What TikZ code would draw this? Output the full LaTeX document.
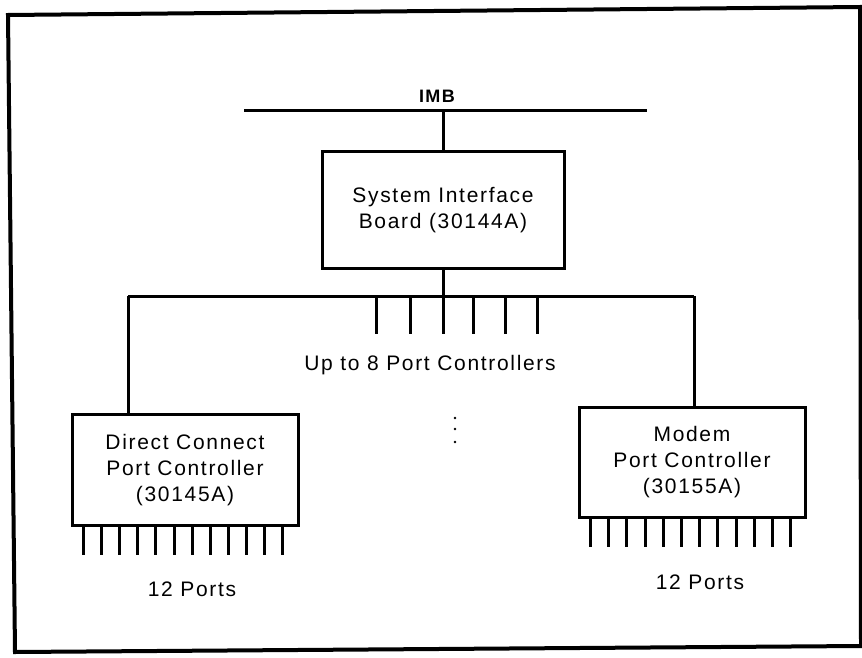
\documentclass[tikz,border=0pt]{standalone}
\usepackage{fontspec}
\setmainfont{Liberation Sans}[LetterSpace=8]
\usetikzlibrary{calc}
\begin{document}
\begin{tikzpicture}[x=1pt,y=-1pt,line width=3pt,
  box/.style={draw,line width=3pt,inner sep=0pt,align=center,font=\fontsize{21}{26}\selectfont},
  lbl/.style={inner sep=0pt,font=\fontsize{21}{26}\selectfont},
  stub/.style={line width=3pt}]
\useasboundingbox (0,0) rectangle (862,658);
% outer frame
\draw[line width=4pt] (8,15) -- (860,7) -- (861,646) -- (15,652) -- cycle;
% IMB bus
\coordinate (imbL) at (244,111);
\coordinate (imbR) at (647,111);
\draw (imbL) -- (imbR);
\node[lbl,font=\fontsize{18}{20}\selectfont\bfseries] (imb) at (437,96) {IMB};
% system interface board
\node[box,minimum width=242pt,minimum height=116pt] (sib) at (443,210) {System Interface\\Board (30144A)};
\draw (sib.north) -- (sib.north |- imbL);
% distribution line
\coordinate (hL) at (128,296);
\coordinate (hR) at (694,296);
\draw (hL) -- (hR);
\coordinate (cEnd) at (443,334);
\draw (sib.south) -- (cEnd);
\foreach \x [count=\i] in {376,410,473,505,537}{
  \coordinate (s\i) at (\x,296);
  \draw[stub] (s\i) -- ++(0,38);
}
\node[lbl] (upto) at (430,365) {Up to 8 Port Controllers};
% vertical ellipsis
\foreach \y in {418,429,442}{
  \fill (455,\y) circle (1.3pt);
}
% direct connect port controller
\node[box,minimum width=226pt,minimum height=111pt] (dc) at (185,470) {Direct Connect\\Port Controller\\(30145A)};
\draw (hL) -- (hL |- dc.north);
\foreach \i in {0,...,11}{
  \draw[stub] ($(dc.south west)+(13+\i*18.1,0)$) -- ++(0,28);
}
\node[lbl] (dcports) at (192,589) {12 Ports};
% modem port controller
\node[box,minimum width=226pt,minimum height=110pt] (modem) at (692,462) {Modem\\Port Controller\\(30155A)};
\draw (hR) -- (hR |- modem.north);
\foreach \i in {0,...,11}{
  \draw[stub] ($(modem.south west)+(13+\i*18.2,0)$) -- ++(0,28);
}
\node[lbl] (mports) at (700,582) {12 Ports};
\end{tikzpicture}
\end{document}
